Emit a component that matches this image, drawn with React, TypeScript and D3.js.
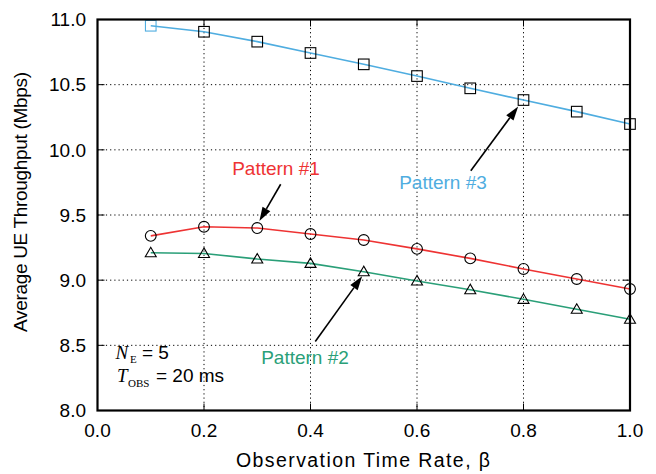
import React from "react";
import * as d3 from "d3";

const betas = [0.1, 0.2, 0.3, 0.4, 0.5, 0.6, 0.7, 0.8, 0.9, 1.0];
const pattern1 = [9.34, 9.41, 9.40, 9.354, 9.308, 9.24, 9.167, 9.086, 9.009, 8.932];
const pattern2 = [9.21, 9.205, 9.162, 9.129, 9.065, 8.994, 8.927, 8.853, 8.777, 8.70];
const pattern3 = [10.952, 10.906, 10.83, 10.743, 10.656, 10.566, 10.472, 10.382, 10.293, 10.198];
const xTicks = [0.0, 0.2, 0.4, 0.6, 0.8, 1.0];
const yTicks = [8.0, 8.5, 9.0, 9.5, 10.0, 10.5, 11.0];

const RED = "#ee3333";
const GREEN = "#2a9f78";
const BLUE = "#4fade0";

const W = 656, H = 474;
const L = 97.5, R = 630, T = 19.5, B = 410.5;
const FONT = "'Liberation Sans', Arial, Helvetica, sans-serif";
const SERIF = "'Liberation Serif', 'Times New Roman', serif";

export default function App() {
  const x = d3.scaleLinear().domain([0, 1]).range([L, R]);
  const y = d3.scaleLinear().domain([8, 11]).range([B, T]);
  const line = d3.line<number>().x((_, i) => x(betas[i])).y((d) => y(d));

  const arrow = (x1: number, y1: number, x2: number, y2: number, key: string) => {
    const X1 = x(x1), Y1 = y(y1), X2 = x(x2), Y2 = y(y2);
    const ang = Math.atan2(Y2 - Y1, X2 - X1);
    const len = 14, hw = 4.5;
    const bx = X2 - len * Math.cos(ang), by = Y2 - len * Math.sin(ang);
    const px = -Math.sin(ang) * hw, py = Math.cos(ang) * hw;
    return (
      <g key={key}>
        <line x1={X1} y1={Y1} x2={bx} y2={by} stroke="#000" strokeWidth={1.6} />
        <polygon points={`${X2},${Y2} ${bx + px},${by + py} ${bx - px},${by - py}`} fill="#000" />
      </g>
    );
  };

  return (
    <svg width={W} height={H} style={{ position: "absolute", left: 0, top: 0, background: "#fff" }} fontFamily={FONT}>
      {/* grid */}
      {yTicks.filter((t) => t > 8 && t < 11).map((t) => (
        <line key={"gy" + t} x1={L} x2={R} y1={y(t)} y2={y(t)} stroke="#000" strokeWidth={1} strokeDasharray="1.2,3" />
      ))}
      {xTicks.filter((t) => t > 0 && t < 1).map((t) => (
        <line key={"gx" + t} y1={T} y2={B} x1={x(t)} x2={x(t)} stroke="#000" strokeWidth={1} strokeDasharray="1.2,3" />
      ))}
      {/* ticks inward */}
      {yTicks.map((t) => (
        <g key={"ty" + t}>
          <line x1={L} x2={L + 7} y1={y(t)} y2={y(t)} stroke="#000" strokeWidth={1} />
          <line x1={R} x2={R - 7} y1={y(t)} y2={y(t)} stroke="#000" strokeWidth={1} />
          <text x={86} y={y(t) + 6.7} textAnchor="end" fontSize={19}>{t.toFixed(1)}</text>
        </g>
      ))}
      {xTicks.map((t) => (
        <g key={"tx" + t}>
          <line y1={B} y2={B - 7} x1={x(t)} x2={x(t)} stroke="#000" strokeWidth={1} />
          <line y1={T} y2={T + 7} x1={x(t)} x2={x(t)} stroke="#000" strokeWidth={1} />
          <text x={x(t)} y={437} textAnchor="middle" fontSize={19}>{t.toFixed(1)}</text>
        </g>
      ))}
      {/* lines */}
      <path d={line(pattern3) || ""} fill="none" stroke={BLUE} strokeWidth={1.6} />
      <path d={line(pattern1) || ""} fill="none" stroke={RED} strokeWidth={1.6} />
      <path d={line(pattern2) || ""} fill="none" stroke={GREEN} strokeWidth={1.6} />
      {/* markers */}
      {pattern3.map((v, i) => (
        <rect key={"s" + i} x={x(betas[i]) - 5.3} y={y(v) - 5.3} width={10.6} height={10.6} fill="none" stroke={i === 0 ? BLUE : "#000"} strokeWidth={1.1} />
      ))}
      {pattern1.map((v, i) => (
        <circle key={"c" + i} cx={x(betas[i])} cy={y(v)} r={5.4} fill="none" stroke="#000" strokeWidth={1.1} />
      ))}
      {pattern2.map((v, i) => {
        const cx = x(betas[i]), cy = y(v);
        return <polygon key={"t" + i} points={`${cx},${cy - 5.5} ${cx - 5.5},${cy + 4} ${cx + 5.5},${cy + 4}`} fill="none" stroke="#000" strokeWidth={1.1} />;
      })}
      {/* frame */}
      <rect x={L} y={T} width={R - L} height={B - T} fill="none" stroke="#000" strokeWidth={2.2} />
      {/* annotations */}
      {arrow(0.344, 9.736, 0.304, 9.454, "a1")}
      {arrow(0.409, 8.53, 0.497, 9.03, "a2")}
      {arrow(0.701, 9.84, 0.79, 10.332, "a3")}
      <text x={276} y={175} textAnchor="middle" fontSize={19} fill={RED}>Pattern #1</text>
      <text x={305} y={364} textAnchor="middle" fontSize={19} fill={GREEN}>Pattern #2</text>
      <text x={443} y={189} textAnchor="middle" fontSize={19} fill={BLUE}>Pattern #3</text>
      <text y={358.5} fontSize={19}>
        <tspan x={115.5} fontFamily={SERIF} fontStyle="italic">N</tspan>
        <tspan x={130} fontFamily={SERIF} fontSize={11} dy={4}>E</tspan>
        <tspan x={142} dy={-4}>= 5</tspan>
      </text>
      <text y={381.7} fontSize={19}>
        <tspan x={117} fontFamily={SERIF} fontStyle="italic">T</tspan>
        <tspan x={128} fontFamily={SERIF} fontSize={11} dy={5}>OBS</tspan>
        <tspan x={156} dy={-5}>= 20 ms</tspan>
      </text>
      {/* axis titles */}
      <text x={363} y={467} textAnchor="middle" fontSize={19.5} textLength={254} lengthAdjust="spacing">Observation Time Rate, β</text>
      <text transform={`translate(27,${202}) rotate(-90)`} textAnchor="middle" fontSize={19} textLength={260} lengthAdjust="spacing">Average UE Throughput (Mbps)</text>
    </svg>
  );
}
